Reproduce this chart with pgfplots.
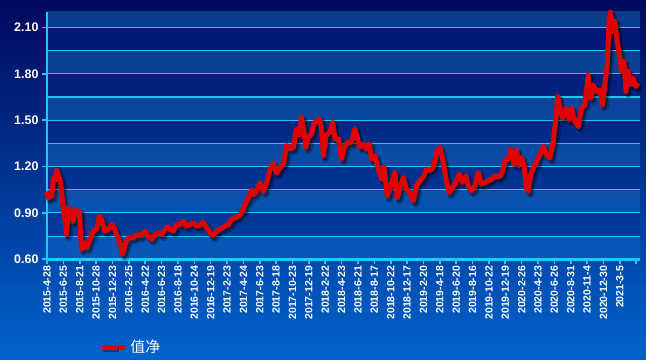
\documentclass[border=0pt]{standalone}
\usepackage{pgfplots}
\pgfplotsset{compat=1.18}
\usepackage{pgfplotstable}
\usepackage{fontspec}
\setmainfont{Liberation Sans}
\newfontfamily\cjk{Noto Sans CJK SC}
\definecolor{bgtop}{RGB}{0,8,92}
\definecolor{bgbot}{RGB}{0,100,204}
\definecolor{darkTop}{RGB}{0,20,112}
\definecolor{darkBot}{RGB}{0,64,160}
\definecolor{lightTop}{RGB}{10,58,138}
\definecolor{lightBot}{RGB}{8,88,184}
\definecolor{cyanline}{RGB}{30,200,240}
\definecolor{navred}{RGB}{224,0,0}
\pgfplotstableread{
x y
0.00 1.039
0.08 0.996
0.18 1.020
0.29 1.007
0.39 1.125
0.49 1.110
0.59 1.179
0.69 1.146
0.83 1.104
0.96 0.964
1.10 0.857
1.20 0.761
1.30 0.932
1.41 0.879
1.51 0.911
1.61 0.846
1.71 0.921
1.85 0.900
1.98 0.911
2.06 0.750
2.12 0.664
2.32 0.707
2.42 0.675
2.63 0.729
2.83 0.782
3.03 0.793
3.20 0.879
3.34 0.857
3.54 0.782
3.75 0.793
3.95 0.825
4.15 0.793
4.36 0.729
4.46 0.707
4.62 0.632
4.77 0.696
4.97 0.739
5.27 0.739
5.48 0.761
5.68 0.750
5.99 0.782
6.19 0.750
6.39 0.729
6.60 0.761
6.80 0.771
7.00 0.761
7.21 0.793
7.41 0.810
7.51 0.793
7.72 0.782
7.92 0.825
8.13 0.825
8.33 0.846
8.53 0.814
8.74 0.825
8.94 0.836
9.14 0.814
9.35 0.820
9.55 0.840
9.75 0.804
9.96 0.771
10.12 0.754
10.37 0.782
10.57 0.793
10.88 0.814
11.08 0.825
11.28 0.857
11.49 0.868
11.69 0.879
11.89 0.900
12.10 0.954
12.30 0.996
12.50 1.050
12.60 1.018
12.80 1.039
13.01 1.093
13.21 1.039
13.42 1.093
13.62 1.179
13.82 1.221
14.03 1.157
14.23 1.189
14.44 1.216
14.64 1.336
14.84 1.314
15.05 1.325
15.25 1.444
15.41 1.400
15.55 1.520
15.70 1.422
15.82 1.325
15.96 1.390
16.17 1.411
16.27 1.466
16.47 1.498
16.64 1.509
16.78 1.444
16.88 1.270
17.04 1.400
17.29 1.422
17.45 1.487
17.60 1.379
17.80 1.379
18.00 1.249
18.20 1.336
18.41 1.357
18.61 1.357
18.81 1.444
18.95 1.390
19.11 1.325
19.32 1.346
19.52 1.314
19.69 1.346
19.83 1.249
20.04 1.270
20.24 1.184
20.45 1.119
20.59 1.195
20.79 1.010
21.00 1.075
21.26 1.162
21.40 0.999
21.60 1.075
21.77 1.130
21.97 1.054
22.17 1.032
22.38 0.978
22.58 1.075
22.78 1.108
22.99 1.130
23.19 1.184
23.40 1.173
23.60 1.195
23.80 1.292
24.00 1.325
24.21 1.227
24.42 1.097
24.58 1.032
24.78 1.065
24.99 1.097
25.19 1.151
25.39 1.097
25.60 1.140
25.74 1.075
25.94 1.043
26.15 1.075
26.35 1.162
26.55 1.086
26.76 1.097
26.96 1.108
27.17 1.119
27.37 1.140
27.57 1.130
27.78 1.151
27.98 1.238
28.18 1.249
28.34 1.314
28.53 1.216
28.69 1.303
28.85 1.206
29.00 1.260
29.14 1.206
29.30 1.060
29.40 1.040
29.55 1.146
29.71 1.190
29.91 1.232
30.11 1.276
30.32 1.330
30.52 1.276
30.72 1.254
30.93 1.362
31.09 1.513
31.20 1.653
31.34 1.578
31.50 1.513
31.71 1.578
31.91 1.502
32.05 1.578
32.25 1.491
32.46 1.459
32.66 1.578
32.86 1.599
33.07 1.794
33.21 1.642
33.37 1.729
33.58 1.686
33.78 1.696
33.94 1.599
34.08 1.729
34.23 1.858
34.35 2.160
34.43 2.200
34.55 2.074
34.69 2.139
34.84 2.009
35.00 1.901
35.10 1.815
35.25 1.880
35.37 1.686
35.51 1.815
35.66 1.729
35.82 1.772
35.98 1.718
36.12 1.740
}\navdata
\begin{document}
\begin{tikzpicture}
\useasboundingbox (0,0) rectangle (646bp,360bp);
\fill[top color=bgtop, bottom color=bgbot] (0,0) rectangle (646bp,360bp);
\foreach \k in {0,...,10}{
  \pgfmathsetmacro\ya{100.7+23.184*\k}
  \pgfmathsetmacro\yb{min(100.7+23.184*(\k+1),348)}
  \pgfmathtruncatemacro\pa{(\ya-100.7)/2.473}
  \pgfmathtruncatemacro\pb{(\yb-100.7)/2.473}
  \pgfmathtruncatemacro\odd{mod(\k,2)}
  \ifnum\odd=0
    \fill[bottom color=lightTop!\pa!lightBot, top color=lightTop!\pb!lightBot] (47bp,\ya bp) rectangle (639.5bp,\yb bp);
  \else
    \fill[bottom color=darkTop!\pa!darkBot, top color=darkTop!\pb!darkBot] (47bp,\ya bp) rectangle (639.5bp,\yb bp);
  \fi
}
\begin{axis}[
  at={(47bp,100.7bp)}, anchor=south west,
  scale only axis, width=592.5bp, height=247.3bp,
  xmin=0, xmax=36.2, ymin=0.6, ymax=2.2,
  clip=false,
  axis x line*=bottom, axis y line*=left,
  x axis line style={-, draw=cyanline, line width=2.5bp},
  y axis line style={-, draw=cyanline, line width=2.5bp},
  tick align=outside,
  major tick length=5bp,
  minor tick length=0pt,
  tick style={draw=cyanline, line width=1.6bp},
  ytick={0.6,0.9,1.2,1.5,1.8,2.1},
  minor ytick={0.75,1.05,1.35,1.65,1.95},
  ymajorgrids, yminorgrids,
  major grid style={draw=cyanline, line width=1.1bp},
  minor grid style={draw=cyanline, line width=1.1bp},
  xtick={0,...,36},
  xticklabels={2015-4-28,2015-6-25,2015-8-21,2015-10-28,2015-12-23,2016-2-25,2016-4-22,2016-6-23,2016-8-18,2016-10-24,2016-12-19,2017-2-23,2017-4-24,2017-6-23,2017-8-18,2017-10-23,2017-12-19,2018-2-22,2018-4-23,2018-6-21,2018-8-17,2018-10-22,2018-12-17,2019-2-20,2019-4-18,2019-6-20,2019-8-16,2019-10-22,2019-12-19,2020-2-26,2020-4-23,2020-6-26,2020-8-31,2020-11-4,2020-12-30,2021-3-5,{}},
  /pgf/number format/assume math mode=true,
  yticklabel style={/pgf/number format/.cd, fixed, fixed zerofill, precision=2, /tikz/.cd, font=\bfseries\fontsize{12.5}{13}\selectfont, text=white},
  xticklabel style={rotate=90, anchor=east, font=\bfseries\fontsize{10.5}{11}\selectfont, text=white, inner sep=1.5bp},
  legend style={draw=none, fill=none, text=white, font=\cjk\fontsize{15}{15}\selectfont, at={(0.088,-0.355)}, anchor=west, inner sep=0pt},
  legend image code/.code={
    \path (0bp,0bp) -- (24bp,0bp);
    \draw[black, opacity=0.4, line width=5pt] (1.5bp,-2.5bp) -- (17.5bp,-2.5bp);
    \draw[navred, line width=5pt] (0bp,0bp) -- (16bp,0bp);
  },
]
\addplot[forget plot, draw=black, opacity=0.22, line width=7.5pt, line join=round, xshift=2.5bp, yshift=-3bp] table[x=x,y=y] {\navdata};
\addplot[forget plot, draw=black, opacity=0.35, line width=5pt, line join=round, xshift=2bp, yshift=-2.5bp] table[x=x,y=y] {\navdata};
\addplot[draw=navred, line width=5pt, line join=round] table[x=x,y=y] {\navdata};
\addlegendentry{值净}
\end{axis}
\end{tikzpicture}
\end{document}
